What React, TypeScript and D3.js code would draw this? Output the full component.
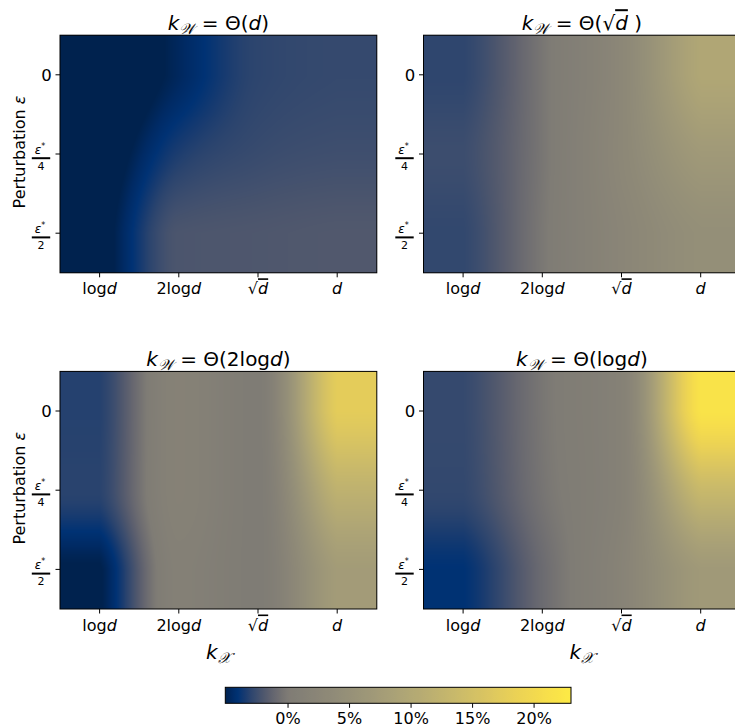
import React, { useMemo } from 'react';
import * as d3 from 'd3';

// ---------- data ----------
const xCategories = ['logd', '2logd', 'sqrtd', 'd'];
const yCategories = ['0', 'eps/4', 'eps/2'];
const panelKeys = ['d', 'sqrtd', '2logd', 'logd'];

// error change (%) per row (perturbation) x column (k_X)
const gridD = [
  [-6.5, -4.75, -3.0, -2.75],
  [-6.0, -3.4, -2.65, -2.45],
  [-5.6, -2.1, -2.0, -1.9],
];
const gridSqrtD = [
  [-2.95, -0.3, 2.8, 9.7],
  [-2.55, -0.3, 2.8, 6.9],
  [-2.85, -0.2, 2.3, 4.6],
];
const grid2LogD = [
  [-3.2, 1.4, 0.0, 17.5],
  [-3.1, 1.4, 0.0, 12.0],
  [-5.2, 1.0, 0.0, 7.4],
];
const gridLogD = [
  [-2.75, -0.3, 1.4, 21.8],
  [-2.85, -0.4, 1.4, 13.5],
  [-4.1, -0.9, 1.8, 6.9],
];
const grids = [gridD, gridSqrtD, grid2LogD, gridLogD];

const colorbarTicks = [0, 5, 10, 15, 20];
const vMin = -5.1;
const vCenter = 0;
const vMax = 23;

// ---------- layout ----------
const W = 735;
const H = 727;
const cell = 79.2;
const panelW = cell * 4;
const panelH = cell * 3;
const panelPos = [
  { x: 60, y: 35.2, left: true, bottom: false },
  { x: 423.5, y: 35.2, left: false, bottom: false },
  { x: 60, y: 371.4, left: true, bottom: true },
  { x: 423.5, y: 371.4, left: false, bottom: true },
];
const cbar = { x0: 225.3, x1: 571, y: 687.3, h: 16 };

const FONT = 'DejaVu Sans, sans-serif';

// cividis, with the saturated low-end blue of matplotlib's table
const lowEnd = ['#00224e', '#002a64', '#003274', '#163a70'];
const cmapColors = d3.range(0, 21).map((i) => (i < lowEnd.length ? lowEnd[i] : d3.interpolateCividis(i / 20)));
const cmap = d3.piecewise(d3.interpolateRgb, cmapColors);

const norm = d3.scaleLinear().domain([vMin, vCenter, vMax]).range([0, 0.5, 1]).clamp(true);
const colorOf = (v: number) => cmap(norm(v));

// monotone (Steffen) cubic interpolation of a 1D series at u in [0, n-1]
function monotone(f: number[], u: number) {
  const n = f.length;
  u = Math.max(0, Math.min(n - 1, u));
  const i = Math.min(Math.floor(u), n - 2);
  const s = u - i;
  const d = (k: number) => f[k + 1] - f[k];
  const slope = (k: number) => {
    if (k === 0) return d(0) / 2;
    if (k === n - 1) return d(n - 2) / 2;
    const a = d(k - 1);
    const b = d(k);
    const p = (a + b) / 2;
    return (Math.sign(a) + Math.sign(b)) * Math.min(Math.abs(a), Math.abs(b), 0.5 * Math.abs(p));
  };
  const m0 = slope(i);
  const m1 = slope(i + 1);
  const s2 = s * s;
  const s3 = s2 * s;
  return (2 * s3 - 3 * s2 + 1) * f[i] + (s3 - 2 * s2 + s) * m0 + (-2 * s3 + 3 * s2) * f[i + 1] + (s3 - s2) * m1;
}

function makeImage(grid: number[][]) {
  const pw = Math.round(panelW);
  const ph = Math.round(panelH);
  const canvas = document.createElement('canvas');
  canvas.width = pw;
  canvas.height = ph;
  const ctx = canvas.getContext('2d');
  if (!ctx) return '';
  const img = ctx.createImageData(pw, ph);
  const xs = d3.scaleLinear().domain([0, pw]).range([-0.5, grid[0].length - 0.5]);
  const ys = d3.scaleLinear().domain([0, ph]).range([-0.5, grid.length - 0.5]);
  const lut: [number, number, number][] = [];
  for (let i = 0; i <= 1024; i++) {
    const c = d3.rgb(cmap(i / 1024));
    lut.push([c.r, c.g, c.b]);
  }
  for (let px = 0; px < pw; px++) {
    const u = xs(px + 0.5);
    const col = grid.map((row) => monotone(row, u));
    for (let py = 0; py < ph; py++) {
      const v = ys(py + 0.5);
      const val = monotone(col, v);
      const t = norm(val);
      const c = lut[Math.round(t * 1024)];
      const k = (py * pw + px) * 4;
      img.data[k] = c[0];
      img.data[k + 1] = c[1];
      img.data[k + 2] = c[2];
      img.data[k + 3] = 255;
    }
  }
  ctx.putImageData(img, 0, 0);
  return canvas.toDataURL();
}

function XTickLabel({ k }: { k: string }) {
  if (k === 'logd') return (<><tspan>log</tspan><tspan fontStyle="italic">d</tspan></>);
  if (k === '2logd') return (<><tspan>2log</tspan><tspan fontStyle="italic">d</tspan></>);
  if (k === 'sqrtd')
    return (
      <>
        <tspan>√</tspan>
        <tspan fontStyle="italic" style={{ textDecoration: 'overline' }}>d</tspan>
      </>
    );
  return <tspan fontStyle="italic">d</tspan>;
}

function TitleInner({ k }: { k: string }) {
  const arg =
    k === 'd' ? (<tspan fontStyle="italic">d</tspan>) :
    k === 'sqrtd' ? (<><tspan>√</tspan><tspan fontStyle="italic" style={{ textDecoration: 'overline' }}>d</tspan><tspan> </tspan></>) :
    k === '2logd' ? (<><tspan>2log</tspan><tspan fontStyle="italic">d</tspan></>) :
    (<><tspan>log</tspan><tspan fontStyle="italic">d</tspan></>);
  return (
    <>
      <tspan fontStyle="italic">k</tspan>
      <tspan fontSize={15} dy={4} fontFamily="DejaVu Serif, serif" fontStyle="italic">𝒲</tspan>
      <tspan dy={-4}> = Θ(</tspan>
      {arg}
      <tspan>)</tspan>
    </>
  );
}

function YFrac({ cx, y, den }: { cx: number; y: number; den: string }) {
  return (
    <g fontFamily={FONT}>
      <text x={cx - 1} y={y} textAnchor="middle" fontSize={12} fontStyle="italic">
        ε<tspan fontSize={8} dy={-5} fontStyle="normal">*</tspan>
      </text>
      <line x1={cx - 9.2} x2={cx + 9.2} y1={y + 4.2} y2={y + 4.2} stroke="#000" strokeWidth={2} />
      <text x={cx} y={y + 16} textAnchor="middle" fontSize={11}>{den}</text>
    </g>
  );
}

function Panel({ idx }: { idx: number }) {
  const p = panelPos[idx];
  const grid = grids[idx];
  const x = d3.scaleBand().domain(xCategories).range([p.x, p.x + panelW]);
  const y = d3.scaleBand().domain(yCategories).range([p.y, p.y + panelH]);
  const href = useMemo(() => makeImage(grid), [grid]);
  const cx = p.x + panelW / 2;
  return (
    <g>
      {grid.map((row, ri) =>
        row.map((v, ci) => (
          <rect
            key={`${ri}-${ci}`}
            x={x(xCategories[ci])}
            y={y(yCategories[ri])}
            width={x.bandwidth()}
            height={y.bandwidth()}
            fill={colorOf(v)}
          />
        ))
      )}
      <image href={href} x={p.x} y={p.y} width={panelW} height={panelH} preserveAspectRatio="none" />
      <rect x={p.x} y={p.y} width={panelW} height={panelH} fill="none" stroke="#000" strokeWidth={1} />
      {xCategories.map((k) => {
        const tx = (x(k) as number) + x.bandwidth() / 2;
        return (
          <g key={k}>
            <line x1={tx} x2={tx} y1={p.y + panelH} y2={p.y + panelH + 4.5} stroke="#000" strokeWidth={1} />
            <text x={tx} y={p.y + panelH + 21.5} textAnchor="middle" fontSize={16} fontFamily={FONT}>
              <XTickLabel k={k} />
            </text>
          </g>
        );
      })}
      {yCategories.map((k, i) => {
        const ty = (y(k) as number) + y.bandwidth() / 2;
        return (
          <g key={k}>
            <line x1={p.x - 4.5} x2={p.x} y1={ty} y2={ty} stroke="#000" strokeWidth={1} />
            {i === 0 ? (
              <text x={p.x - 8.3} y={ty + 6} textAnchor="end" fontSize={16.5} fontFamily={FONT}>0</text>
            ) : (
              <YFrac cx={p.x - 19} y={ty} den={i === 1 ? '4' : '2'} />
            )}
          </g>
        );
      })}
      <text x={cx} y={p.y - 5} textAnchor="middle" fontSize={20} fontFamily={FONT}>
        <TitleInner k={panelKeys[idx]} />
      </text>
      {p.left && (
        <text
          transform={`translate(25,${p.y + panelH / 2 - 2}) rotate(-90)`}
          textAnchor="middle"
          fontSize={16}
          fontFamily={FONT}
        >
          Perturbation <tspan fontStyle="italic">ε</tspan>
        </text>
      )}
      {p.bottom && (
        <text x={cx} y={p.y + panelH + 49.5} textAnchor="middle" fontSize={20} fontFamily={FONT}>
          <tspan fontStyle="italic">k</tspan>
          <tspan fontSize={15} dy={4} fontFamily="DejaVu Serif, serif" fontStyle="italic">𝒳</tspan>
        </text>
      )}
    </g>
  );
}

function Colorbar() {
  const xs = d3.scaleLinear().domain([vMin, vMax]).range([cbar.x0, cbar.x1]);
  const stops = d3.range(0, 141).map((i) => {
    const v = vMin + (i / 140) * (vMax - vMin);
    return { off: i / 140, c: colorOf(v) };
  });
  return (
    <g>
      <defs>
        <linearGradient id="cbgrad" x1="0" x2="1" y1="0" y2="0">
          {stops.map((s, i) => (
            <stop key={i} offset={s.off} stopColor={s.c} />
          ))}
        </linearGradient>
      </defs>
      <rect x={cbar.x0} y={cbar.y} width={cbar.x1 - cbar.x0} height={cbar.h} fill="url(#cbgrad)" stroke="#000" strokeWidth={1} />
      {colorbarTicks.map((t) => (
        <g key={t}>
          <line x1={xs(t)} x2={xs(t)} y1={cbar.y + cbar.h} y2={cbar.y + cbar.h + 4.5} stroke="#000" strokeWidth={1} />
          <text x={xs(t)} y={cbar.y + cbar.h + 21} textAnchor="middle" fontSize={16} fontFamily={FONT}>
            {`${t}%`}
          </text>
        </g>
      ))}
    </g>
  );
}

export default function App() {
  return (
    <svg
      width={W}
      height={H}
      viewBox={`0 0 ${W} ${H}`}
      style={{ position: 'absolute', left: 0, top: 0, background: '#fff' }}
    >
      <rect x={0} y={0} width={W} height={H} fill="#fff" />
      {[0, 1, 2, 3].map((i) => (
        <Panel key={i} idx={i} />
      ))}
      <Colorbar />
    </svg>
  );
}
